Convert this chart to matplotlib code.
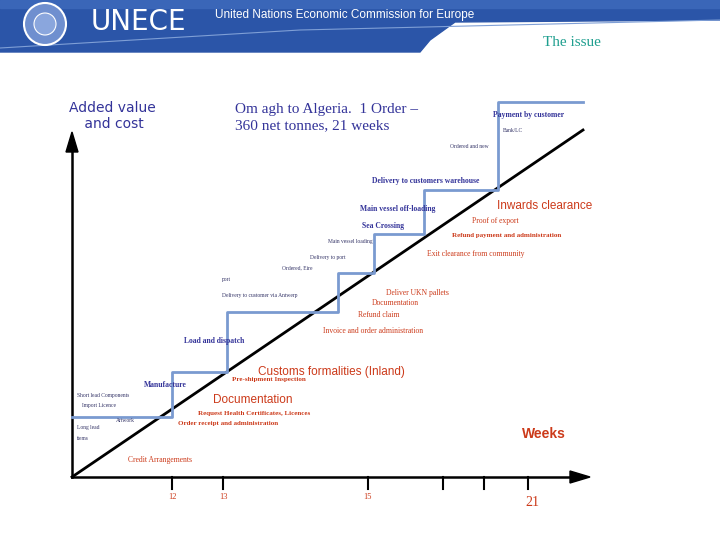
import matplotlib
matplotlib.use("Agg")
import matplotlib.pyplot as plt
from matplotlib.patches import Polygon, Circle

# Schematic chart laid out in slide pixel coordinates (x right, y down)
step_x = [72, 172, 172, 227, 227, 338, 338, 374, 374, 424, 424, 498, 498, 583]
step_y = [417, 417, 372, 372, 312, 312, 273, 273, 234, 234, 190, 190, 102, 102]
diag_x = [72, 583]
diag_y = [477, 130]
tick_pos = [172, 223, 368, 443, 484, 528]
tick_labels = ["12", "13", "15", "", "", "21"]

BLUE = "#333399"
RED = "#cc3a1a"
TINY = "#333366"

labels = [
    ("Payment by customer", 493, 115, BLUE, 5.5, "bold", "serif"),
    ("Bank/LC", 503, 130, TINY, 4, "normal", "serif"),
    ("Ordered and new", 450, 147, TINY, 4, "normal", "serif"),
    ("Delivery to customers warehouse", 372, 181, BLUE, 5.5, "bold", "serif"),
    ("Main vessel off-loading", 360, 209, BLUE, 5.5, "bold", "serif"),
    ("Sea Crossing", 362, 226, BLUE, 5.5, "bold", "serif"),
    ("Main vessel loading", 328, 241, TINY, 4, "normal", "serif"),
    ("Delivery to port", 310, 257, TINY, 4, "normal", "serif"),
    ("Ordered, Eire", 282, 268, TINY, 4, "normal", "serif"),
    ("port", 222, 280, TINY, 4, "normal", "serif"),
    ("Delivery to customer via Antwerp", 222, 296, TINY, 4, "normal", "serif"),
    ("Load and dispatch", 184, 341, BLUE, 5.5, "bold", "serif"),
    ("Manufacture", 144, 385, BLUE, 5.5, "bold", "serif"),
    ("Short lead Components", 77, 395, TINY, 4, "normal", "serif"),
    ("Import Licence", 82, 406, TINY, 4, "normal", "serif"),
    ("Artwork", 116, 421, TINY, 4, "normal", "serif"),
    ("Long lead", 77, 428, TINY, 4, "normal", "serif"),
    ("items", 77, 439, TINY, 4, "normal", "serif"),
    ("Inwards clearance", 497, 206, RED, 8.5, "normal", "sans-serif"),
    ("Proof of export", 472, 221, RED, 5.5, "normal", "serif"),
    ("Refund payment and administration", 452, 236, RED, 5, "bold", "serif"),
    ("Exit clearance from community", 427, 254, RED, 5.5, "normal", "serif"),
    ("Deliver UKN pallets", 386, 293, RED, 5.5, "normal", "serif"),
    ("Documentation", 372, 303, RED, 5.5, "normal", "serif"),
    ("Refund claim", 358, 315, RED, 5.5, "normal", "serif"),
    ("Invoice and order administration", 323, 331, RED, 5.5, "normal", "serif"),
    ("Customs formalities (Inland)", 258, 372, RED, 8.5, "normal", "sans-serif"),
    ("Pre-shipment Inspection", 232, 380, RED, 5, "bold", "serif"),
    ("Documentation", 213, 400, RED, 8.5, "normal", "sans-serif"),
    ("Request Health Certificates, Licences", 198, 413, RED, 5, "bold", "serif"),
    ("Order receipt and administration", 178, 424, RED, 5, "bold", "serif"),
    ("Weeks", 522, 434, RED, 10, "bold", "sans-serif"),
    ("Credit Arrangements", 128, 460, RED, 5.5, "normal", "serif"),
]

fig = plt.figure(figsize=(7.2, 5.4), dpi=100)
ax = fig.add_axes([0, 0, 1, 1])
ax.set_xlim(0, 720)
ax.set_ylim(540, 0)
ax.axis("off")

# header banner
ax.add_patch(Polygon([(0, 0), (720, 0), (720, 20), (455, 22), (430, 40), (420, 52), (0, 52)],
                     closed=True, color="#2b55a8", zorder=1))
ax.add_patch(Polygon([(0, 0), (720, 0), (720, 8), (0, 8)], closed=True, color="#3a66b8", zorder=1))
ax.plot([0, 300, 720], [48, 30, 20], color="#7f9fd6", lw=0.8, zorder=2)
ax.add_patch(Circle((45, 24), 21, facecolor="#6f8fcf", edgecolor="white", lw=1.5, zorder=3))
ax.add_patch(Circle((45, 24), 11, facecolor="#8aa6dd", edgecolor="white", lw=0.8, zorder=3))
ax.text(91, 22, "UNECE", color="white", fontsize=20, va="center", ha="left", family="DejaVu Sans", zorder=4)
ax.text(215, 15, "United Nations Economic Commission for Europe", color="white", fontsize=8.5,
        va="center", ha="left", family="Liberation Sans", zorder=4)
ax.text(572, 42, "The issue", color="#1f9f8f", fontsize=11, va="center", ha="center",
        family="Liberation Serif")

# axes arrows
ax.plot([72, 72], [477, 150], color="black", lw=1.8)
ax.add_patch(Polygon([(66, 152), (78, 152), (72, 132)], closed=True, color="black"))
ax.plot([72, 572], [477, 477], color="black", lw=1.8)
ax.add_patch(Polygon([(570, 471), (570, 483), (590, 477)], closed=True, color="black"))
for tp, tl in zip(tick_pos, tick_labels):
    ax.plot([tp, tp], [477, 489], color="black", lw=1.5)
    if tl:
        big = tl == "21"
        ax.text(tp + 4 if big else tp, 502 if big else 497, tl, color=RED,
                fontsize=10 if big else 6, ha="center", va="center", family="Liberation Serif")

ax.plot(diag_x, diag_y, color="black", lw=2)
ax.plot(step_x, step_y, color="#7a9ad0", lw=2)

for t, x, y, c, s, w, f in labels:
    fam = "Liberation Serif" if f == "serif" else "Liberation Sans"
    ax.text(x, y, t, color=c, fontsize=s, fontweight=w, family=fam, ha="left", va="center")

ax.text(112, 116, "Added value\n and cost", color=BLUE, fontsize=10, ha="center", va="center",
        family="DejaVu Sans", linespacing=1.1)
ax.text(235, 118, "Om agh to Algeria.  1 Order –\n360 net tonnes, 21 weeks", color=BLUE,
        fontsize=11, ha="left", va="center", family="Liberation Serif", linespacing=1.3)

fig.savefig("out.png", dpi=100)
